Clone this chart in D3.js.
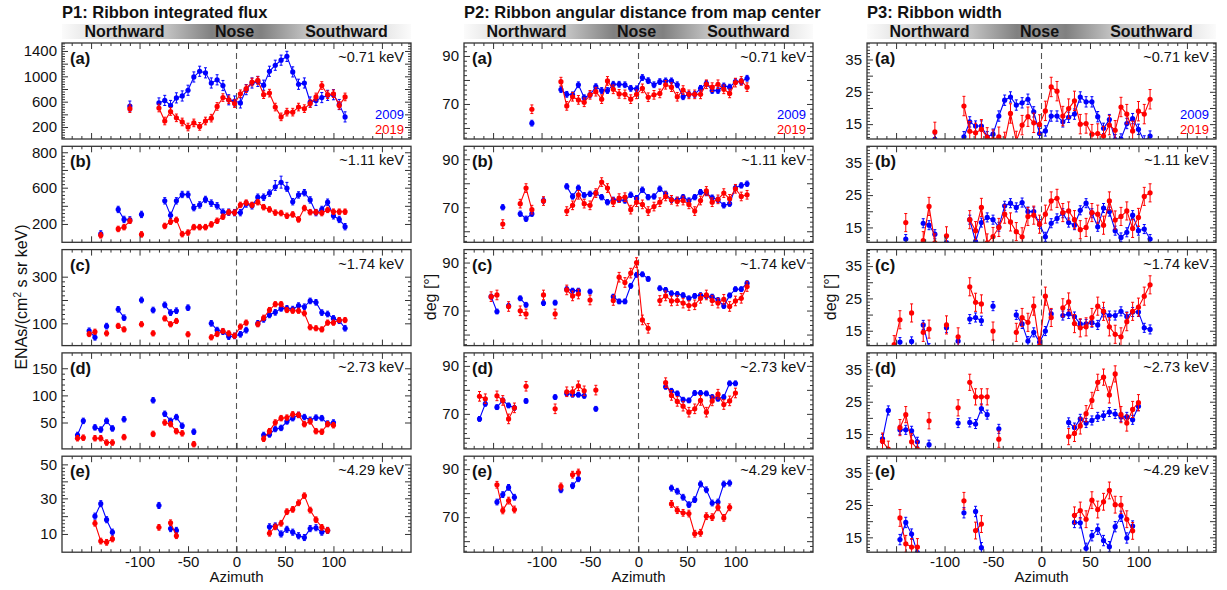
<!DOCTYPE html>
<html>
<head>
<meta charset="utf-8">
<script src="https://cdn.jsdelivr.net/npm/d3@7"></script>
<style>
  body { margin: 0; background: #fff; }
  svg text { font-family: "Liberation Sans", Arial, Helvetica, sans-serif; }
</style>
</head>
<body>
<div id="vis"></div>
<script>
const _ = null;

// azimuth bins (deg)
const azimuth = [-164,-158,-152,-146,-140,-134,-128,-122,-116,-110,-104,-98,-92,-86,-80,-74,-68,-62,-56,-50,-44,-38,-32,-26,-20,-14,-8,-2,4,10,16,22,28,34,40,46,52,58,64,70,76,82,88,94,100,106,112];

const years = ['2009', '2019'];
const energies = ['~0.71 keV', '~1.11 keV', '~1.74 keV', '~2.73 keV', '~4.29 keV'];
const letters = ['(a)', '(b)', '(c)', '(d)', '(e)'];
const bannerLabels = ['Northward', 'Nose', 'Southward'];

// P1: integrated flux, one row per energy
const flux2009 = [
  [_,_,_,_,_,_,_,_,_,530,_,_,_,_,580,620,540,660,690,780,990,1080,1055,895,945,855,630,610,580,790,895,920,860,1080,1175,1255,1315,1070,875,895,595,620,665,700,710,555,360],
  [_,_,_,_,90,_,_,360,250,245,_,305,_,_,_,455,295,455,525,525,380,410,470,430,400,330,330,325,325,420,400,495,495,540,605,630,595,445,520,545,465,325,360,440,290,250,170],
  [_,_,68,40,_,88,_,160,124,_,_,200,_,157,_,179,146,154,_,167,_,_,_,100,71,64,43,46,53,71,_,100,117,136,147,164,164,161,176,171,196,190,146,140,121,111,79],
  [27,53,_,41,37,53,39,_,56,_,_,_,_,91,_,66,53,60,44,_,33,_,_,_,_,_,_,_,_,_,_,_,27,28,38,40,52,58,64,60,55,59,58,48,50,_,_],
  [_,_,_,20,27,18,11,_,_,_,_,_,_,_,26,_,13,12,_,_,_,_,_,_,_,_,_,_,_,_,_,_,_,14,14.5,10,12.6,11,9,8,13,13.5,11,12,_,_,_]
];
const flux2019 = [
  [_,_,_,_,_,_,_,_,_,490,_,_,_,_,500,295,445,345,280,200,265,210,295,340,525,665,630,570,725,805,910,935,710,735,515,360,435,435,515,490,570,675,855,710,725,540,675],
  [_,_,_,_,75,_,_,145,165,235,_,85,_,_,_,178,225,245,88,105,165,165,165,195,235,280,330,325,410,435,410,440,385,360,325,320,290,305,250,375,330,330,320,355,335,335,335],
  [_,_,54,64,_,57,_,89,74,_,_,96,_,57,_,121,96,110,_,53,_,_,_,40,54,67,57,47,86,103,_,96,124,157,182,182,157,154,154,143,83,79,74,103,103,114,114],
  [21,22,_,21,21,13,13,_,23,_,_,_,_,29,_,50,47,34,30,_,10,_,_,_,_,_,_,_,_,_,_,_,20,34,50,58,59,65,64,47,52,34,33,47,45,_,_],
  [_,_,_,16,6,5.3,7.2,_,_,_,_,_,_,_,13.7,_,16.3,9,_,_,_,_,_,_,_,_,_,_,_,_,_,_,_,10.4,14,16,22.5,23.8,27.5,31.6,23.4,18,13.7,12,_,_,_]
];

// P2: angular distance from map center (deg)
const angle2009 = [
  [_,_,_,_,_,_,_,_,_,62,_,_,_,_,76,74,73.8,78,72.6,73.8,77.2,75.6,75.6,78.2,78.2,78,76.5,76.3,81,79.7,78,79.3,79.6,79.6,78,73,74,74,76.5,78.6,75.6,75.6,77.5,77,79.3,79.3,80.7],
  [_,_,_,_,70,_,_,67.3,65.2,67.3,_,72.8,_,_,_,78.7,74.5,78.1,75,75.6,75.9,74.2,72.1,73.1,73.1,72.8,75.2,73.8,77.3,74.2,74.5,77.7,75.6,73.1,73.1,74.2,72.8,74.2,76.3,75.9,74,73.1,70.8,71.5,78.1,79.1,79.8],
  [_,_,75.8,69.6,_,72,_,75.1,72.4,_,_,73.1,_,73.3,_,78.9,78.3,78.3,_,77.9,_,_,_,75.8,73.8,73.8,80.3,84.9,85.1,83.2,_,79.3,78.6,77.2,76.9,76.4,75.1,76.1,76.4,76.1,75.8,74.4,71.9,76.3,78.9,78.9,81.4],
  [67.9,74.2,_,72.8,75.6,73.5,72.5,_,75.4,_,_,_,_,77,_,78.5,78,78,77.5,_,72.1,_,_,_,_,_,_,_,_,_,_,_,81.3,79.6,78.5,75.9,75.6,78.7,78.7,78.5,77,76.3,77,82.7,82.7,_,_],
  [_,_,_,76.3,79.4,82.4,78.3,_,_,_,_,_,_,_,81.4,_,83.1,86,_,_,_,_,_,_,_,_,_,_,_,_,_,_,_,82.1,80.8,78.3,75.2,77.3,83.8,81.4,75.9,76.3,83.8,84.2,_,_,_]
];
const angle2019 = [
  [_,_,_,_,_,_,_,_,_,67.8,_,_,_,_,79.3,69.2,73,71.7,70.7,73.8,75.1,72,79.6,76.1,74.2,74,72,74,76.5,72.8,73.8,74.4,78,77,73,75.8,74,74,74,78.2,77,78.2,76.1,74.4,78.9,79.6,77],
  [_,_,_,_,63,_,_,71.5,78,69,_,72.6,_,_,_,68.4,70.8,75.2,71.5,70.8,75.9,80.5,78,72.1,73.8,74.2,69,72.1,71.2,68.4,70.3,72.1,74.5,73.1,72.4,72.8,71.2,68.4,72.8,76.8,72.1,73.3,75.9,73.5,77.7,74.5,75.2],
  [_,_,75.8,76.5,_,71.7,_,69.9,68.6,_,_,76.5,_,68.6,_,78.6,76.1,76.9,_,74.4,_,_,_,74.2,83.9,81.7,85.6,90,66.1,62.6,_,74.2,76.1,74,74.2,73.1,72.1,72.4,75.1,76.5,74.2,73.1,74.7,71.7,74,75.1,80],
  [77.3,76.3,_,77.5,75.6,67.9,72.5,_,81.5,_,_,_,_,72.1,_,79.2,79.2,81.7,79.6,_,79.9,_,_,_,_,_,_,_,_,_,_,_,83,77.7,75.2,73.2,70.7,72.1,75.6,70.7,75.4,78.2,73.9,75.4,78.7,_,_],
  [_,_,_,83.5,72.8,76.9,73.2,_,_,_,_,_,_,_,82.8,_,87.7,88.6,_,_,_,_,_,_,_,_,_,_,_,_,_,_,_,75.5,72.9,71.8,71.5,63.1,63.5,70.4,70,74.1,69.7,74.1,_,_,_]
];

// P3: ribbon width (deg)
const width2009 = [
  [_,_,_,_,_,_,_,_,_,10.3,_,_,_,_,11.1,15.7,14.4,14.4,11.1,11.9,17.5,22.4,23.4,20.9,21.6,22.7,18.8,12.1,12.9,17.5,17.5,15.7,17.1,18.1,23.4,21.9,21.9,17.3,13.7,16.4,10.2,10.4,15.2,16.7,13.4,9.8,11.3],
  [_,_,_,_,11.4,_,_,16.3,15.7,12.9,_,10.3,_,_,_,17.4,10.6,16.5,18.1,17.4,15.2,21.7,22.5,21.2,22.7,19.9,19.9,16,12.1,16.3,17.8,19.4,16.5,15.7,20.3,22.5,19.4,15.2,21,19.9,14,11.9,13.5,18.8,14,14.5,11.4],
  [_,_,_,11.5,_,11.7,_,16.8,9.6,_,_,15.9,_,11.8,_,18.6,19.1,18.1,_,22.6,_,_,_,19.9,17.1,11.8,14.5,11.5,14.9,20.2,_,19.7,20.2,19.4,17.1,17.1,17.5,16.8,20.7,19.7,19.7,21,19.4,20.8,20.8,15.9,15.4],
  [13.5,22.3,_,16.3,16.3,16,12.6,_,11.7,_,_,_,_,18.4,_,18.6,18.1,22.9,21,_,16.6,_,_,_,_,_,_,_,_,_,_,_,18.6,17,19.7,18.4,19.2,20.3,20.7,21.8,21.2,20.3,20.3,19.4,23.6,_,_],
  [_,_,_,14.3,19.6,16,10.3,_,_,_,_,_,_,_,22.6,_,23,11.8,_,_,_,_,_,_,_,_,_,_,_,_,_,_,_,19.6,19.5,11.6,15.5,17.5,14,12.1,18.3,21.5,14.8,18.5,_,_,_]
];
const width2019 = [
  [_,_,_,_,_,_,_,_,_,12.6,_,_,_,_,20.6,12.8,12.3,13.4,10.9,10.2,11.1,9.5,18.3,9.8,14.7,17.3,15.4,14.9,19.1,26.5,25.2,17.5,19.8,22.2,15,15.2,11.9,12.1,11.3,14.7,13.1,20.3,18.1,12.9,19,18.1,22.7],
  [_,_,_,_,16.5,_,_,10.9,21.5,10.2,_,12.4,_,_,_,17.4,14,21.2,10.2,12.2,15,19.1,16.7,13.7,12.1,18.4,18.8,16,19.1,23.2,24,19.6,20.1,17.4,14.3,15,19.6,19.1,15.7,23.2,17.3,18.4,20.1,14.7,18.1,24.6,25.7],
  [_,_,10.7,18.4,_,20.5,_,14.5,15.5,_,_,16.8,_,13.1,_,28.6,23.8,23.3,_,14.9,_,_,_,14.5,19.1,17.6,22.6,10.3,25.7,19.1,_,22.1,23.9,17.2,15.9,16.2,19.1,22.6,21,16.2,13.9,13.1,17.8,21,22.3,25.7,29.2],
  [12.8,10.3,_,17,21,12.6,10.3,_,19.1,_,_,_,_,23.1,_,31,26.5,26.5,26.5,_,13.4,_,_,_,_,_,_,_,_,_,_,_,14.2,15.2,17.5,21.3,25.4,31,32.6,27.1,33.6,21,18.4,22.6,24.7,_,_],
  [_,_,_,21,13,12,12,_,_,_,_,_,_,_,26.3,_,17.1,19.1,_,_,_,_,_,_,_,_,_,_,_,_,_,_,_,21.8,23.3,20.6,26.5,23.6,26,29.5,25.1,25,20.6,17,_,_,_]
];

// typical 1-sigma error per energy row
const fluxErr2009 = [80, 35, 12, 5, 1.7];
const fluxErr2019 = [60, 30, 11, 5, 1.6];
const angleErr2009 = [1.2, 1.1, 1.0, 1.0, 1.2];
const angleErr2019 = [1.8, 1.8, 2.0, 2.0, 1.4];
const widthErr2009 = [1.6, 1.4, 1.4, 1.4, 1.6];
const widthErr2019 = [3.0, 2.8, 2.8, 2.5, 2.6];

// y tick values (labelled / all major)
const fluxLabels = [[200,600,1000,1400],[200,600,800],[100,300],[50,100,150],[10,30,50]];
const fluxMajor  = [[200,400,600,800,1000,1200,1400],[200,400,600,700,800],[100,200,300],[50,100,150],[10,20,30,40,50]];
const angleLabels = [70, 90], angleMajor = [60, 70, 80, 90];
const widthLabels = [15, 25, 35], widthMajor = [15, 20, 25, 30, 35];
const xMajor = [-150, -100, -50, 0, 50, 100, 150];
const xLabels = [-100, -50, 0, 50, 100];

// ---- layout ----
const W = 1227, H = 590;
const colLeft = [62, 464, 867], plotW = 349;
const rowTop = [43, 146.3, 249.6, 352.9, 456.2], plotH = 96;
const blue = '#0000ff', red = '#ff0000', ink = '#333';

// where the y domain sits inside each panel (fraction of height from bottom)
const fluxFrame = [
  {dom: [11, 1526], pos: [0, 1]},
  {dom: [200, 600, 800], pos: [0.191, 0.569, 0.938]},
  {dom: [100, 300], pos: [0.232, 0.718]},
  {dom: [50, 150], pos: [0.275, 0.84]},
  {dom: [10, 30, 50], pos: [0.19, 0.561, 0.915]}
];
const angleFrame = {dom: [55.4, 95.4], pos: [0, 1]};
const widthFrame = {dom: [10.4, 40.1], pos: [0, 1]};

const columns = [
  {title: 'P1: Ribbon integrated flux', s: [flux2009, flux2019], e: [fluxErr2009, fluxErr2019],
   frame: r => fluxFrame[r], labels: r => fluxLabels[r], major: r => fluxMajor[r], ylabX: 27},
  {title: 'P2: Ribbon angular distance from map center', s: [angle2009, angle2019], e: [angleErr2009, angleErr2019],
   frame: () => angleFrame, labels: () => angleLabels, major: () => angleMajor, ylabX: 436},
  {title: 'P3: Ribbon width', s: [width2009, width2019], e: [widthErr2009, widthErr2019],
   frame: () => widthFrame, labels: () => widthLabels, major: () => widthMajor, ylabX: 836}
];

const svg = d3.select('#vis').append('svg').attr('width', W).attr('height', H);
const defs = svg.append('defs');

const grad = defs.append('linearGradient').attr('id', 'banner');
[[0, '#fbfbfb'], [0.12, '#dcdcdc'], [0.3, '#c2c2c2'], [0.43, '#808080'], [0.5, '#959595'],
 [0.57, '#808080'], [0.7, '#c2c2c2'], [0.88, '#dcdcdc'], [1, '#fbfbfb']]
  .forEach(([o, c]) => grad.append('stop').attr('offset', o).attr('stop-color', c));

// minor tick values: split each major step in 5, stay inside the panel
function minorTicks(y, major) {
  const [a, b] = d3.extent([y.invert(d3.min(y.range())), y.invert(d3.max(y.range()))]);
  const out = [];
  for (let i = 0; i < major.length - 1; i++) {
    const st = (major[i + 1] - major[i]) / 5;
    for (let k = 1; k < 5; k++) out.push(major[i] + k * st);
  }
  const st0 = (major[1] - major[0]) / 5, st1 = (major[major.length - 1] - major[major.length - 2]) / 5;
  for (let v = major[0] - st0; v > a; v -= st0) out.push(v);
  for (let v = major[major.length - 1] + st1; v < b; v += st1) out.push(v);
  return out;
}

function styleAxis(g) {
  g.select('.domain').remove();
  g.selectAll('.tick line').attr('stroke', ink).attr('stroke-width', 1);
  g.selectAll('.tick text').attr('fill', '#111').attr('font-size', 15)
    .style('font-family', '"Liberation Sans", Arial, sans-serif');
}

columns.forEach((col, ci) => {
  const left = colLeft[ci], right = left + plotW;
  const x = d3.scaleLinear().domain([-180, 180]).range([left, right]);

  svg.append('text').attr('x', left).attr('y', 18)
    .attr('font-size', 16.5).attr('font-weight', 'bold').attr('fill', '#111').text(col.title);

  svg.append('rect').attr('x', left).attr('y', 24).attr('width', plotW).attr('height', 15)
    .attr('fill', 'url(#banner)');
  const bannerOffset = [-112, -2, 110];
  bannerLabels.forEach((t, i) => {
    svg.append('text').attr('x', x(0) + bannerOffset[i]).attr('y', 37)
      .attr('text-anchor', 'middle').attr('font-size', 16).attr('font-weight', 'bold')
      .attr('fill', '#111').text(t);
  });

  for (let r = 0; r < 5; r++) {
    const top = rowTop[r], bottom = top + plotH;
    const fr = col.frame(r);
    const y = d3.scaleLinear().domain(fr.dom).range(fr.pos.map(p => bottom - p * plotH));
    const g = svg.append('g');

    const cid = `clip-${ci}-${r}`;
    defs.append('clipPath').attr('id', cid).append('rect')
      .attr('x', left).attr('y', top).attr('width', plotW).attr('height', plotH);

    // zero azimuth
    g.append('line').attr('x1', x(0)).attr('x2', x(0)).attr('y1', top).attr('y2', bottom)
      .attr('stroke', '#555').attr('stroke-width', 1.1).attr('stroke-dasharray', '6,4');

    // data
    const marks = g.append('g').attr('clip-path', `url(#${cid})`);
    [0, 1].forEach(k => {
      const vals = col.s[k][r], err = col.e[k][r], colr = k === 0 ? blue : red;
      const pts = azimuth.map((a, i) => ({a, v: vals[i]}));
      const line = d3.line().defined(d => d.v != null).x(d => x(d.a)).y(d => y(d.v));
      marks.append('path').attr('d', line(pts)).attr('fill', 'none')
        .attr('stroke', colr).attr('stroke-width', 1.1);
      const ok = pts.filter(d => d.v != null);
      marks.selectAll(null).data(ok).join('line')
        .attr('x1', d => x(d.a)).attr('x2', d => x(d.a))
        .attr('y1', d => y(d.v - err)).attr('y2', d => y(d.v + err))
        .attr('stroke', colr).attr('stroke-width', 1);
      [-1, 1].forEach(sg => {
        marks.selectAll(null).data(ok).join('line')
          .attr('x1', d => x(d.a) - 1.5).attr('x2', d => x(d.a) + 1.5)
          .attr('y1', d => y(d.v + sg * err)).attr('y2', d => y(d.v + sg * err))
          .attr('stroke', colr).attr('stroke-width', 1);
      });
      marks.selectAll(null).data(ok).join('circle')
        .attr('cx', d => x(d.a)).attr('cy', d => y(d.v)).attr('r', 2.6).attr('fill', colr);
    });

    // axes (ticks point inward)
    const major = col.major(r), labels = col.labels(r);
    const xMinor = d3.range(-170, 180, 10).filter(v => v % 50 !== 0);
    g.append('g').attr('transform', `translate(0,${bottom})`)
      .call(d3.axisBottom(x).tickValues(xMajor).tickSize(-6).tickPadding(4)
        .tickFormat(d => r === 4 && xLabels.includes(d) ? String(d) : ''))
      .call(styleAxis);
    g.append('g').attr('transform', `translate(0,${bottom})`)
      .call(d3.axisBottom(x).tickValues(xMinor).tickSize(-3).tickFormat('')).call(styleAxis);
    g.append('g').attr('transform', `translate(0,${top})`)
      .call(d3.axisTop(x).tickValues(xMajor).tickSize(-6).tickFormat('')).call(styleAxis);
    g.append('g').attr('transform', `translate(0,${top})`)
      .call(d3.axisTop(x).tickValues(xMinor).tickSize(-3).tickFormat('')).call(styleAxis);

    const yMinor = minorTicks(y, major);
    g.append('g').attr('transform', `translate(${left},0)`)
      .call(d3.axisLeft(y).tickValues(major).tickSize(-6).tickPadding(5)
        .tickFormat(d => labels.includes(d) ? String(d) : ''))
      .call(styleAxis);
    g.append('g').attr('transform', `translate(${left},0)`)
      .call(d3.axisLeft(y).tickValues(yMinor).tickSize(-3).tickFormat('')).call(styleAxis);
    g.append('g').attr('transform', `translate(${right},0)`)
      .call(d3.axisRight(y).tickValues(major).tickSize(-6).tickFormat('')).call(styleAxis);
    g.append('g').attr('transform', `translate(${right},0)`)
      .call(d3.axisRight(y).tickValues(yMinor).tickSize(-3).tickFormat('')).call(styleAxis);

    g.append('rect').attr('x', left).attr('y', top).attr('width', plotW).attr('height', plotH)
      .attr('fill', 'none').attr('stroke', ink).attr('stroke-width', 1.3);

    g.append('text').attr('x', left + 8).attr('y', top + 21)
      .attr('font-size', 16.5).attr('font-weight', 'bold').attr('fill', '#111').text(letters[r]);
    g.append('text').attr('x', right - 7).attr('y', top + 19).attr('text-anchor', 'end')
      .attr('font-size', 14.5).attr('fill', '#111').text(energies[r]);

    if (r === 0) {
      years.forEach((yr, k) => {
        g.append('text').attr('x', right - 7).attr('y', top + 76 + k * 14.5)
          .attr('text-anchor', 'end').attr('font-size', 13)
          .attr('fill', k === 0 ? blue : red).text(yr);
      });
    }
  }

  svg.append('text').attr('x', x(0)).attr('y', 582).attr('text-anchor', 'middle')
    .attr('font-size', 15).attr('fill', '#111').text('Azimuth');

  const yl = svg.append('text')
    .attr('transform', `translate(${col.ylabX},297) rotate(-90)`)
    .attr('text-anchor', 'middle').attr('font-size', 16).attr('fill', '#111');
  if (ci === 0) {
    yl.append('tspan').text('ENAs/(cm');
    yl.append('tspan').attr('font-size', 10).attr('dy', -6).text('2');
    yl.append('tspan').attr('dy', 6).text(' s sr keV)');
  } else {
    yl.text('deg [°]');
  }
});
</script>
</body>
</html>
